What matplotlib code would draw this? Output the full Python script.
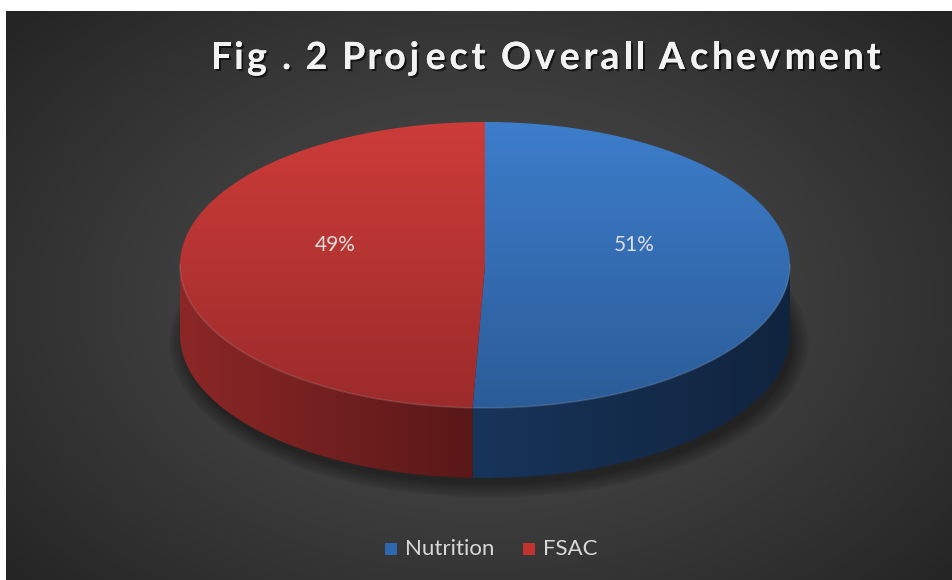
import numpy as np
import matplotlib
matplotlib.use("Agg")
import matplotlib.pyplot as plt
from matplotlib.patches import Polygon, Rectangle, Ellipse
from matplotlib.textpath import TextPath
from matplotlib.font_manager import FontProperties
import matplotlib.patheffects as pe

# ---- data ----
labels = ["Nutrition", "FSAC"]
values = [51, 49]
pct_labels = ["51%", "49%"]
title = "Fig . 2 Project Overall Achevment"

# ---- styles ----
top_colors = [("#3d7dcb", "#2b5c98"), ("#cc3c39", "#9c2b2b")]
side_colors = [("#17345a", "#11243e"), ("#8c2727", "#5a1818")]
legend_colors = ["#2f67b0", "#c0332f"]

W, H = 953, 580
fig = plt.figure(figsize=(W / 100, H / 100), dpi=100)
fig.patch.set_facecolor("white")
ax = fig.add_axes([0, 0, 1, 1])
ax.set_xlim(0, W)
ax.set_ylim(H, 0)
ax.axis("off")

# background radial gradient
bx0, by0, bx1, by1 = 6, 11, W, H
yy, xx = np.mgrid[by0:by1, bx0:bx1]
rr = np.sqrt(((xx - 480) / 620.0) ** 2 + ((yy - 300) / 420.0) ** 2)
rr = np.clip(rr, 0, 1)
c_in, c_out = 0x4c / 255, 0x25 / 255
bg = c_in + (c_out - c_in) * rr ** 1.3
ax.imshow(np.dstack([bg, bg, bg]), extent=(bx0, bx1, by1, by0), zorder=0,
          interpolation="bilinear", aspect="auto")

# pie geometry
cx, cy, rx, ry, depth = 485, 265, 305, 143, 70


def pt(t, dy=0.0):
    return cx + rx * np.sin(t), cy - ry * np.cos(t) + dy


def grad_fill(path_verts, c0, c1, horizontal=False, z=2, y_range=None):
    poly = Polygon(path_verts, closed=True, facecolor="none", edgecolor="none")
    ax.add_patch(poly)
    xs = np.array(path_verts)[:, 0]
    ys = np.array(path_verts)[:, 1]
    x0, x1 = xs.min(), xs.max()
    y0, y1 = (ys.min(), ys.max()) if y_range is None else y_range
    a = np.array(matplotlib.colors.to_rgb(c0))
    b = np.array(matplotlib.colors.to_rgb(c1))
    s = np.linspace(0, 1, 256)
    g = a[None, :] + (b - a)[None, :] * s[:, None]
    img = g[None, :, :] if horizontal else g[:, None, :]
    im = ax.imshow(img, extent=(x0, x1, y1, y0), zorder=z, aspect="auto",
                   interpolation="bilinear")
    im.set_clip_path(poly)


# shadow
for k in range(12):
    e = Ellipse((cx + 4, cy + depth + 8), 2 * rx + 30 - k * 3, 2 * ry + 24 - k * 2.5,
                facecolor="black", edgecolor="none", alpha=0.035, zorder=1)
    ax.add_patch(e)

total = float(sum(values))
bounds = np.concatenate([[0], np.cumsum(values) / total * 2 * np.pi])
# slight perspective correction of the projected split angle
proj = bounds.copy()
proj[1:-1] = np.pi + (bounds[1:-1] - np.pi) * 0.65

# sides
for i in range(len(values)):
    t0, t1 = proj[i], proj[i + 1]
    a0, a1 = max(t0, np.pi / 2), min(t1, 3 * np.pi / 2)
    if a1 <= a0:
        continue
    ts = np.linspace(a0, a1, 200)
    verts = [pt(t) for t in ts] + [pt(t, depth) for t in ts[::-1]]
    c0, c1 = side_colors[i]
    grad_fill(verts, c0, c1, horizontal=True, z=2)

# top faces
for i in range(len(values)):
    t0, t1 = proj[i], proj[i + 1]
    ts = np.linspace(t0, t1, 300)
    verts = [(cx, cy)] + [pt(t) for t in ts]
    c0, c1 = top_colors[i]
    grad_fill(verts, c0, c1, horizontal=False, z=3, y_range=(cy - ry, cy + ry))

# rim highlight
ts = np.linspace(np.pi / 2, 3 * np.pi / 2, 300)
rim = np.array([pt(t) for t in ts])
ax.plot(rim[:, 0], rim[:, 1], color="white", alpha=0.12, lw=1.2, zorder=4)

# percentage labels
for i in range(len(values)):
    mid = (bounds[i] + bounds[i + 1]) / 2
    lx = cx + 0.49 * rx * np.sin(mid)
    ly = cy - 20
    ax.text(lx, ly, pct_labels[i], ha="center", va="center", fontsize=15,
            color="#dcdcdc", family="Lato", zorder=5)

# title with letter spacing
tfp = FontProperties(family="Lato", weight="bold", size=27)
spacing = 2.0  # extra px per char
px_per_pt = 100 / 72.0
advs = []
for ch in title:
    if ch == " ":
        w = TextPath((0, 0), "a a", prop=tfp).get_extents().width - TextPath((0, 0), "aa", prop=tfp).get_extents().width
    else:
        w = TextPath((0, 0), ch + "|", prop=tfp).get_extents().width - TextPath((0, 0), "|", prop=tfp).get_extents().width
    advs.append(w * px_per_pt + spacing)
total_w = sum(advs) - spacing
x = 547 - total_w / 2
for ch, a in zip(title, advs):
    if ch != " ":
        ax.text(x, 58, ch, ha="left", va="center", fontproperties=tfp,
                color="#f2f2f2", zorder=5,
                path_effects=[pe.withSimplePatchShadow(offset=(1.5, -1.5), shadow_rgbFace="black", alpha=0.6),
                              pe.Normal()])
    x += a

# legend
leg_x = [385, 523]
for i, lab in enumerate(labels):
    ax.add_patch(Rectangle((leg_x[i], 543), 12, 12, facecolor=legend_colors[i],
                           edgecolor="none", zorder=5))
    ax.text(leg_x[i] + 20, 549, lab, ha="left", va="center", fontsize=16,
            color="#d9d9d9", family="Lato", zorder=5)

fig.savefig("out.png", dpi=100, facecolor=fig.get_facecolor())
